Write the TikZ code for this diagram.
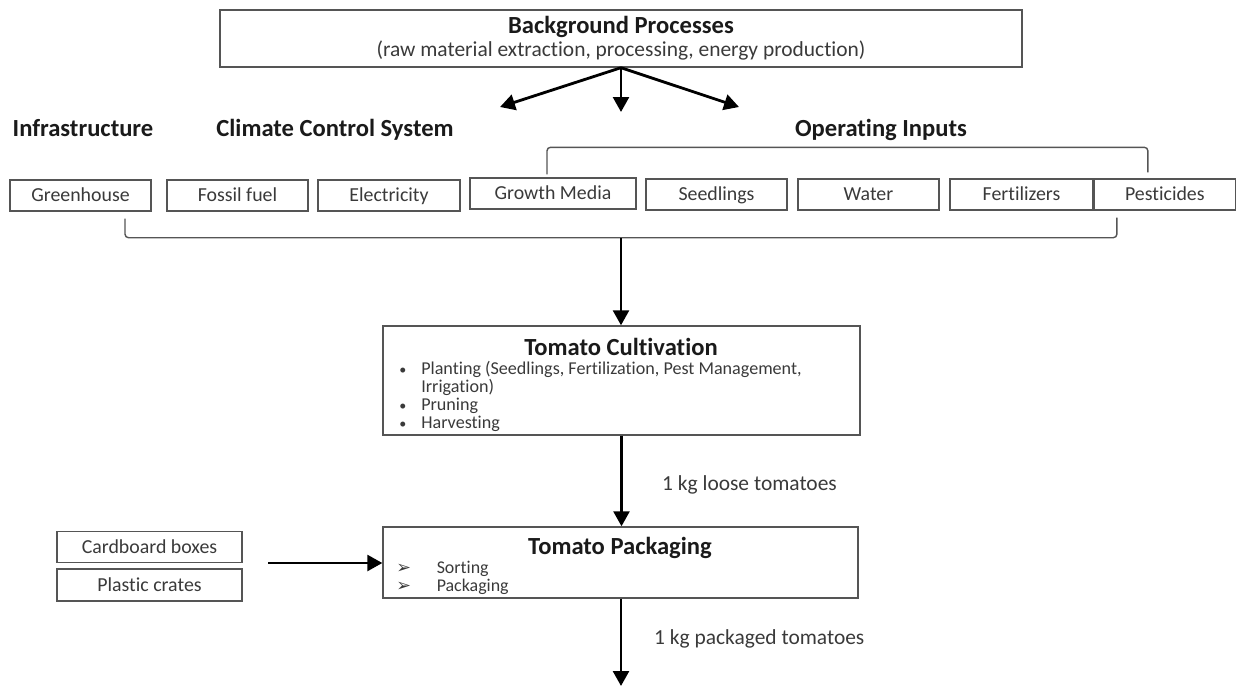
\documentclass[tikz,border=0pt]{standalone}
\usepackage{fontspec}
\setmainfont{Carlito}[Ligatures=NoCommon]
\newfontfamily\dingfont{DejaVu Sans}
\usepackage{tikz}
\usetikzlibrary{arrows.meta,positioning,calc}
\definecolor{boxgray}{HTML}{555555}
\definecolor{textgray}{HTML}{3A3A3A}
\definecolor{headblack}{HTML}{1A1A1A}

\begin{document}
\begin{tikzpicture}[
    x=0.02cm, y=-0.02cm,
    inp/.style={rectangle, draw=boxgray, line width=0.8pt, minimum height=0.62cm, inner sep=0pt, text height=8pt, text depth=0.7pt, font=\fontsize{11.3}{13}\selectfont, text=textgray},
    stage/.style={rectangle, draw=boxgray, line width=0.8pt, inner sep=0pt},
    head/.style={anchor=base, font=\fontsize{14}{16}\selectfont\bfseries, text=headblack},
    lbl/.style={anchor=base west, font=\fontsize{12.2}{14}\selectfont, text=textgray},
    steps/.style={anchor=north west, inner sep=0pt, align=left, text=textgray},
    arrow/.style={-{Triangle[length=8.5pt,width=9pt]}, line width=1.6pt, color=black},
    brace/.style={draw=boxgray, line width=0.8pt, rounded corners=2pt}
]
  \useasboundingbox (0,0) rectangle (1238,687);

  % Background box and its three arrows
  \node[stage, minimum width=16.04cm, minimum height=1.14cm, align=center, font=\fontsize{12.2}{13}\selectfont, text=textgray] (bg) at (621,38.5)
    {{\fontsize{14}{16}\selectfont\bfseries\color{headblack}Background Processes}\\(raw material extraction, processing, energy production)};
  \coordinate (tipL) at (500,107);
  \coordinate (tipM) at (621,112);
  \coordinate (tipR) at (739,107);
  \draw[arrow] (bg.south) -- (tipL);
  \draw[arrow] (bg.south) -- (tipM);
  \draw[arrow] (bg.south) -- (tipR);

  % Group headings
  \node[head] (infra) at (83,136) {Infrastructure};
  \node[head] (climate) at (335,136) {Climate Control System};
  \node[head] (oper) at (881,136) {Operating Inputs};

  % Input boxes
  \node[inp, minimum width=2.82cm] (gh) at (80.5,195.5) {Greenhouse};
  \node[inp, minimum width=2.82cm] (ff) at (237.5,195.5) {Fossil fuel};
  \node[inp, minimum width=2.84cm] (el) at (389,195.5) {Electricity};
  \node[inp, minimum width=3.32cm] (gm) at (553,193.5) {Growth Media};
  \node[inp, minimum width=2.82cm] (sd) at (716.5,194.5) {Seedlings};
  \node[inp, minimum width=2.82cm] (wa) at (868.5,194.5) {Water};
  \node[inp, minimum width=2.86cm] (fe) at (1021.5,194.5) {Fertilizers};
  \node[inp, minimum width=2.82cm, right=0pt of fe] (pe) {Pesticides};

  % Brackets
  \draw[brace] ($(gm.north)+(-6,-3)$) |- ($(pe.north)+(-17,-31)$) -- ($(pe.north)+(-17,-6)$);
  \draw[brace] ($(gh.south)+(44.5,7)$) |- ($(pe.south)+(-48,27)$) -- ($(pe.south)+(-48,7)$);
  \coordinate (join) at (621,238);

  % Tomato cultivation
  \node[stage, minimum width=9.54cm, minimum height=2.18cm] (cult) at (621.5,380.5) {};
  \node[head] (cultT) at (621,355) {Tomato Cultivation};
  \node[steps, font=\fontsize{10.3}{10.2}\selectfont] (cultL) at (399,360)
    {\rule{0pt}{8pt}\makebox[12.5pt][l]{\fontsize{8}{10}\selectfont\textbullet}Planting (Seedlings, Fertilization, Pest Management,\\
     \hspace*{12.5pt}Irrigation)\\
     \makebox[12.5pt][l]{\fontsize{8}{10}\selectfont\textbullet}Pruning\\
     \makebox[12.5pt][l]{\fontsize{8}{10}\selectfont\textbullet}Harvesting};
  \draw[arrow] (join) -- (join |- cult.north);

  % Tomato packaging
  \node[stage, minimum width=9.5cm, minimum height=1.42cm] (pack) at (620.5,562.5) {};
  \node[head] (packT) at (620,554) {Tomato Packaging};
  \node[steps, font=\fontsize{10.2}{10.2}\selectfont] (packL) at (396,559)
    {\rule{0pt}{8pt}\makebox[23pt][l]{\dingfont\fontsize{10}{10}\selectfont ➢}Sorting\\
     \makebox[23pt][l]{\dingfont\fontsize{10}{10}\selectfont ➢}Packaging};
  \draw[arrow] (cult.south) -- (cult.south |- pack.north);
  \node[lbl] (loose) at (656,490) {1 kg loose tomatoes};

  % Packaging materials
  \node[inp, minimum width=3.7cm] (card) at (149.5,547) {Cardboard boxes};
  \node[inp, minimum width=3.7cm, minimum height=0.64cm] (plast) at (149.5,585) {Plastic crates};
  \coordinate (matin) at (268,563);
  \draw[arrow] (matin) -- (matin -| pack.west);

  % Output
  \coordinate (out) at (621,686);
  \draw[arrow] (pack.south -| out) -- (out);
  \node[lbl] (packed) at (648,644) {1 kg packaged tomatoes};
\end{tikzpicture}
\end{document}
